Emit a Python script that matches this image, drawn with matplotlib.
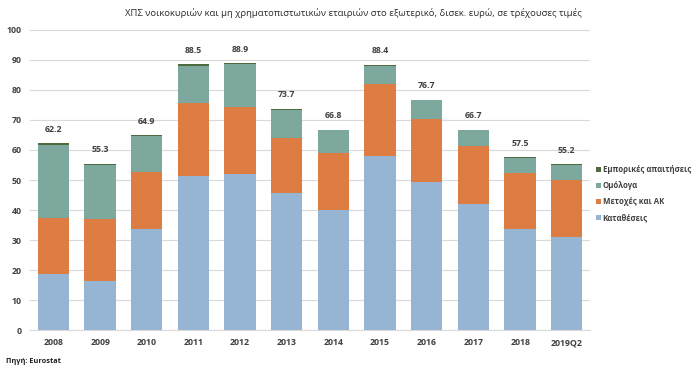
import matplotlib
matplotlib.use('Agg')
import matplotlib.pyplot as plt
import numpy as np

# Δεδομένα (δισεκ. ευρώ), διαβασμένα από το γράφημα
etiketes = ['2008', '2009', '2010', '2011', '2012', '2013', '2014', '2015', '2016', '2017', '2018', '2019Q2']
katatheseis = [18.6, 16.3, 33.6, 51.4, 51.9, 45.6, 40.0, 58.1, 49.5, 42.0, 33.6, 31.1]
metoxes = [18.6, 20.6, 19.2, 24.2, 22.3, 18.5, 18.9, 23.9, 20.7, 19.4, 18.8, 18.8]
omologa = [24.6, 18.2, 11.9, 12.5, 14.3, 9.3, 7.6, 6.1, 6.3, 5.1, 4.9, 5.1]
emporikes = [0.4, 0.2, 0.2, 0.4, 0.4, 0.3, 0.3, 0.3, 0.2, 0.2, 0.2, 0.2]
synola = [62.2, 55.3, 64.9, 88.5, 88.9, 73.7, 66.8, 88.4, 76.7, 66.7, 57.5, 55.2]

plt.rcParams['font.family'] = ['Open Sans', 'DejaVu Sans']

fig = plt.figure(figsize=(7, 3.7), dpi=100)
ax = fig.add_axes([0.043, 0.108, 0.800, 0.811])

x = np.arange(len(etiketes))
w = 0.67
c_blue = '#95B5D3'
c_orange = '#DE7D43'
c_green = '#7CA89D'
c_dark = '#4E6A3E'

b1 = ax.bar(x, katatheseis, w, color=c_blue, label='Καταθέσεις', zorder=3)
bottom = np.array(katatheseis)
b2 = ax.bar(x, metoxes, w, bottom=bottom, color=c_orange, label='Μετοχές και ΑΚ', zorder=3)
bottom = bottom + np.array(metoxes)
b3 = ax.bar(x, omologa, w, bottom=bottom, color=c_green, label='Ομόλογα', zorder=3)
bottom = bottom + np.array(omologa)
b4 = ax.bar(x, emporikes, w, bottom=bottom, color=c_dark, label='Εμπορικές απαιτήσεις', zorder=3)

# Ετικέτες συνόλων πάνω από τις στήλες
for xi, s in zip(x, synola):
    ax.text(xi, s + 3.2, f'{s:.1f}', ha='center', va='bottom', fontsize=6.3,
            color='#404040', fontweight='bold')

ax.set_xlim(-0.5, 11.5)
ax.set_ylim(0, 100)
ax.set_yticks(range(0, 101, 10))
ax.set_xticks(x)
ax.set_xticklabels(etiketes)
ax.tick_params(axis='both', length=0, labelsize=6.3, colors='#404040', pad=6)
for lbl in ax.get_xticklabels() + ax.get_yticklabels():
    lbl.set_fontweight('bold')
ax.grid(axis='y', color='#D9D9D9', lw=0.8, zorder=0)
for s in ['top', 'right', 'left']:
    ax.spines[s].set_visible(False)
ax.spines['bottom'].set_color('#D9D9D9')

fig.text(0.505, 0.965, 'ΧΠΣ νοικοκυριών και μη χρηματοπιστωτικών εταιριών στο εξωτερικό, δισεκ. ευρώ, σε τρέχουσες τιμές',
         ha='center', va='center', fontsize=6.8, color='#2b2b2b')
fig.text(0.008, 0.022, 'Πηγή: Eurostat', ha='left', va='center', fontsize=5.3,
         color='#222222', fontweight='bold')

leg = ax.legend(handles=[b4, b3, b2, b1], loc='center left', bbox_to_anchor=(1.0, 0.455),
                frameon=False, fontsize=5.6, handlelength=0.7, handleheight=0.7,
                handletextpad=0.2, labelspacing=0.9, borderaxespad=0.3)
for t in leg.get_texts():
    t.set_color('#404040')
    t.set_fontweight('bold')

fig.savefig('out.png', dpi=100, facecolor='white')
